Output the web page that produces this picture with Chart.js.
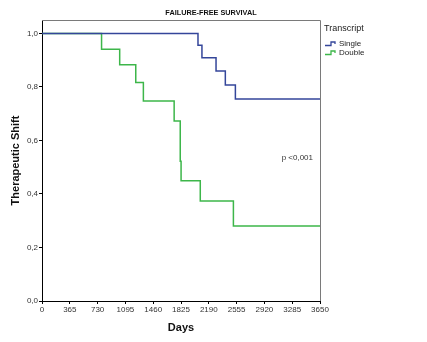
<!DOCTYPE html>
<html>
<head>
<meta charset="utf-8">
<script src="https://cdn.jsdelivr.net/npm/chart.js@4/dist/chart.umd.min.js"></script>
<style>
  html, body { margin: 0; padding: 0; background: #fff; }
  #wrap { width: 427px; height: 342px; }
</style>
</head>
<body>
<div id="wrap"><canvas id="kmChart" width="427" height="342"></canvas></div>
<script>
// ---- data ----
const singleDays = [0, 2048, 2100, 2285, 2407, 2539, 3650];
const singleSurv = [1.0, 0.956, 0.909, 0.859, 0.807, 0.755, 0.755];

const doubleDays = [0, 782, 1020, 1231, 1331, 1735, 1815, 1826, 2078, 2513, 3650];
const doubleSurv = [1.0, 0.941, 0.883, 0.816, 0.747, 0.673, 0.522, 0.449, 0.374, 0.280, 0.280];

const xTicks = [0, 365, 730, 1095, 1460, 1825, 2190, 2555, 2920, 3285, 3650];
const yTicks = [0, 0.2, 0.4, 0.6, 0.8, 1.0];

const seriesNames = ["Single", "Double"];
const seriesColors = ["#34469a", "#3db64a"];

function toPoints(days, surv) {
    let pts = [];
    for (let i = 0; i < days.length; i++) {
        pts.push({ x: days[i], y: surv[i] });
    }
    return pts;
}

// extra drawing: box lines, titles, legend, p value
const extras = {
    id: "extras",
    afterDraw(chart) {
        const ctx = chart.ctx;
        const a = chart.chartArea;
        ctx.save();

        // top and right frame
        ctx.strokeStyle = "#7a7a7a";
        ctx.lineWidth = 1;
        ctx.beginPath();
        ctx.moveTo(a.left, a.top + 0.5);
        ctx.lineTo(a.right + 0.5, a.top + 0.5);
        ctx.lineTo(a.right + 0.5, a.bottom);
        ctx.stroke();

        ctx.fillStyle = "#111";
        ctx.textBaseline = "middle";

        // chart title
        ctx.font = "bold 7.3px 'Liberation Sans', Arial, sans-serif";
        ctx.textAlign = "center";
        ctx.fillText("FAILURE-FREE SURVIVAL", 211, 13);

        // p value
        ctx.font = "8px 'Liberation Sans', Arial, sans-serif";
        ctx.textAlign = "right";
        ctx.fillStyle = "#333";
        ctx.fillText("p <0,001", 313, 158);

        // legend
        ctx.textAlign = "left";
        ctx.fillStyle = "#222";
        ctx.font = "9px 'Liberation Sans', Arial, sans-serif";
        ctx.fillText("Transcript", 324, 29);
        ctx.font = "8px 'Liberation Sans', Arial, sans-serif";
        for (let i = 0; i < seriesNames.length; i++) {
            const y = 44 + i * 9;
            ctx.strokeStyle = seriesColors[i];
            ctx.lineWidth = 1.3;
            ctx.beginPath();
            ctx.moveTo(325, y + 1.5);
            ctx.lineTo(331, y + 1.5);
            ctx.lineTo(331, y - 2);
            ctx.lineTo(335, y - 2);
            ctx.lineTo(335, y);
            ctx.stroke();
            ctx.fillStyle = "#222";
            ctx.fillText(seriesNames[i], 339, y);
        }
        ctx.restore();
    }
};

const ctx = document.getElementById("kmChart").getContext("2d");

new Chart(ctx, {
    type: "line",
    data: {
        datasets: [
            {
                label: seriesNames[0],
                data: toPoints(singleDays, singleSurv),
                borderColor: seriesColors[0],
                borderWidth: 1.5,
                stepped: "before",
                pointRadius: 0,
                fill: false
            },
            {
                label: seriesNames[1],
                data: toPoints(doubleDays, doubleSurv),
                borderColor: seriesColors[1],
                borderWidth: 1.5,
                stepped: "before",
                pointRadius: 0,
                fill: false
            }
        ]
    },
    options: {
        responsive: false,
        animation: false,
        layout: {
            padding: { left: 0, right: 107, top: 20, bottom: 0 }
        },
        plugins: {
            legend: { display: false },
            tooltip: { enabled: false }
        },
        scales: {
            x: {
                type: "linear",
                min: 0,
                max: 3650,
                afterBuildTicks(scale) {
                    scale.ticks = xTicks.map(v => ({ value: v }));
                },
                afterFit(scale) {
                    scale.height = 41;
                },
                grid: {
                    drawOnChartArea: false,
                    drawTicks: true,
                    tickLength: 3,
                    color: "#000"
                },
                border: { color: "#000", width: 1 },
                ticks: {
                    color: "#333",
                    font: { family: "'Liberation Sans', Arial, sans-serif", size: 8 },
                    padding: 1,
                    maxRotation: 0,
                    autoSkip: false,
                    callback: v => String(v)
                },
                title: {
                    display: true,
                    text: "Days",
                    color: "#111",
                    font: { family: "'Liberation Sans', Arial, sans-serif", size: 11, weight: "bold" },
                    padding: { top: 8, bottom: 7 }
                }
            },
            y: {
                type: "linear",
                min: 0,
                max: 1.05,
                afterBuildTicks(scale) {
                    scale.ticks = yTicks.map(v => ({ value: v }));
                },
                afterFit(scale) {
                    scale.width = 42;
                },
                grid: {
                    drawOnChartArea: false,
                    drawTicks: true,
                    tickLength: 3,
                    color: "#000"
                },
                border: { color: "#000", width: 1 },
                ticks: {
                    color: "#333",
                    font: { family: "'Liberation Sans', Arial, sans-serif", size: 8 },
                    padding: 1,
                    callback: v => v.toFixed(1).replace(".", ",")
                },
                title: {
                    display: true,
                    text: "Therapeutic Shift",
                    color: "#111",
                    font: { family: "'Liberation Sans', Arial, sans-serif", size: 11, weight: "bold" },
                    padding: { top: 9, bottom: 0 }
                }
            }
        }
    },
    plugins: [extras]
});
</script>
</body>
</html>
